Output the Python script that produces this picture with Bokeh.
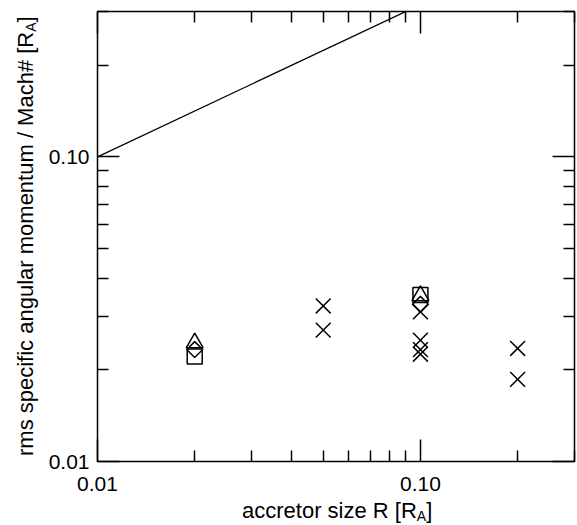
from bokeh.plotting import figure
from bokeh.models import (Range1d, LogAxis, FixedTicker, PrintfTickFormatter,
                          CustomJSTickFormatter, Div)
from bokeh.layouts import row, column
from bokeh.embed import file_html
from bokeh.resources import INLINE

# ---- data ----
x_major = [0.01, 0.1]
x_minor = [0.02, 0.03, 0.04, 0.05, 0.06, 0.07, 0.08, 0.09, 0.2, 0.3]
y_major = [0.01, 0.1]
y_minor = [0.02, 0.03, 0.04, 0.05, 0.06, 0.07, 0.08, 0.09, 0.2, 0.3]

line_x = [0.01, 0.1]
line_y = [0.1, 0.316]

cross_x = [0.05, 0.05, 0.1, 0.1, 0.1, 0.1, 0.2, 0.2]
cross_y = [0.0324, 0.0270, 0.0310, 0.0250, 0.0233, 0.0225, 0.0235, 0.0186]

tri_x = [0.02, 0.1]
tri_y = [0.0245, 0.0350]

dia_x = [0.02, 0.1]
dia_y = [0.0233, 0.0328]

sq_x = [0.02, 0.1]
sq_y = [0.0221, 0.0352]

x_title = "accretor size R [R"
y_title = "rms specific angular momentum / Mach# [R"
sub_text = "A"

FONT = "Liberation Sans"

p = figure(width=537, height=500, x_axis_type="log", y_axis_type="log",
           x_range=Range1d(0.01, 0.3), y_range=Range1d(0.01, 0.3),
           output_backend="svg", toolbar_location=None,
           min_border_left=57, min_border_right=3, min_border_top=11,
           min_border_bottom=39)
p.grid.visible = False
p.background_fill_color = "white"
p.border_fill_color = "white"
p.outline_line_color = "black"
p.outline_line_width = 1.5


def style_axis(ax, ticker, show_labels, standoff):
    ax.ticker = ticker
    ax.axis_line_color = None
    ax.major_tick_in = 22
    ax.major_tick_out = 0
    ax.minor_tick_in = 11
    ax.minor_tick_out = 0
    ax.major_tick_line_color = "black"
    ax.minor_tick_line_color = "black"
    ax.major_tick_line_width = 1.5
    ax.minor_tick_line_width = 1.5
    ax.major_label_text_font = FONT
    ax.major_label_text_color = "black"
    ax.major_label_text_font_size = "21px"
    ax.major_label_standoff = standoff
    if show_labels:
        ax.formatter = PrintfTickFormatter(format="%.2f")
    else:
        ax.formatter = CustomJSTickFormatter(code="return ''")


style_axis(p.xaxis[0], FixedTicker(ticks=x_major, minor_ticks=x_minor), True, 15)
style_axis(p.yaxis[0], FixedTicker(ticks=y_major, minor_ticks=y_minor), True, 8)

top_ax = LogAxis()
right_ax = LogAxis()
style_axis(top_ax, FixedTicker(ticks=x_major, minor_ticks=x_minor), False, 0)
style_axis(right_ax, FixedTicker(ticks=y_major, minor_ticks=y_minor), False, 0)
p.add_layout(top_ax, "above")
p.add_layout(right_ax, "right")

# ---- marks ----
p.line(line_x, line_y, line_color="black", line_width=1.3)
p.scatter(cross_x, cross_y, marker="x", size=21, line_color="black",
          line_width=1.5)
p.scatter(tri_x, tri_y, marker="triangle", size=17, line_color="black",
          fill_color=None, line_width=1.5)
p.scatter(dia_x, dia_y, marker="square", size=11.3, angle=0.785398,
          line_color="black", fill_color=None, line_width=1.5)
p.scatter(sq_x, sq_y, marker="square", size=15, line_color="black",
          fill_color=None, line_width=1.5)

# ---- axis titles (HTML, with subscript) ----
sub = ('<span style="font-size:14px;position:relative;top:3px">'
       + sub_text + '</span>')
xdiv = Div(width=537, height=25, margin=0, text=(
    '<div style="padding-left:202px;padding-top:0px;white-space:nowrap;'
    'font-family:\'Liberation Sans\';font-size:22px;line-height:22px;color:black">'
    + x_title + sub + ']</div>'))

ydiv = Div(width=40, height=525, margin=0, text=(
    '<div style="padding-top:456px;padding-left:15px;">'
    '<div style="width:480px;height:22px;white-space:nowrap;'
    'transform:rotate(-90deg);transform-origin:0 0;'
    'font-family:\'Liberation Sans\';font-size:22px;line-height:22px;color:black">'
    + y_title + sub + ']</div></div>'))

layout = row(ydiv, column(p, xdiv, spacing=0), spacing=0)

open("out.html", "w").write(file_html(layout, INLINE))
